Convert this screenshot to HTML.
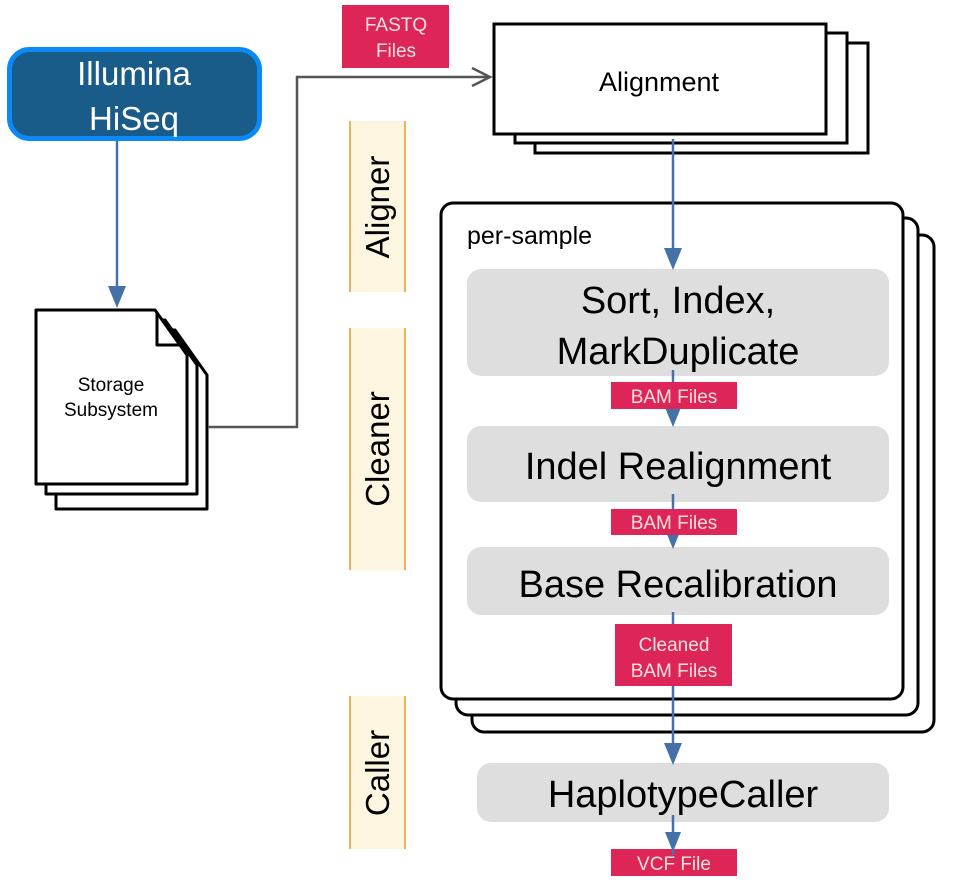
<!DOCTYPE html>
<html><head><meta charset="utf-8"><style>
html,body{margin:0;padding:0;background:#fff;}
svg{display:block;font-family:"Liberation Sans",Arial,sans-serif;}
</style></head><body>
<svg width="965" height="885" viewBox="0 0 965 885" xmlns="http://www.w3.org/2000/svg">
<!-- swimlane bands -->
<g fill="#fcf6e1" stroke="#f0b05a" stroke-width="2">
<rect x="350" y="121" width="55" height="171" stroke="none"/>
<line x1="350" y1="121" x2="350" y2="292"/><line x1="405" y1="121" x2="405" y2="292"/>
<rect x="350" y="328" width="55" height="242" stroke="none"/>
<line x1="350" y1="328" x2="350" y2="570"/><line x1="405" y1="328" x2="405" y2="570"/>
<rect x="350" y="696" width="55" height="153" stroke="none"/>
<line x1="350" y1="696" x2="350" y2="849"/><line x1="405" y1="696" x2="405" y2="849"/>
</g>
<g font-size="33" fill="#000" text-anchor="middle">
<text transform="translate(389,207) rotate(-90)">Aligner</text>
<text transform="translate(389,449) rotate(-90)">Cleaner</text>
<text transform="translate(389,773) rotate(-90)">Caller</text>
</g>

<!-- Illumina -->
<rect x="9.5" y="49.5" width="250" height="89" rx="20" fill="#195b89" stroke="#0b8af6" stroke-width="5"/>
<text x="134" y="85" font-size="33" fill="#fff" text-anchor="middle">Illumina</text>
<text x="134" y="130" font-size="33" fill="#fff" text-anchor="middle">HiSeq</text>
<line x1="117" y1="141" x2="117" y2="290" stroke="#4472a8" stroke-width="2.5"/>
<polygon points="108,286 126,286 117,308" fill="#4472a8"/>

<!-- Storage docs -->
<g fill="#fff" stroke="#000" stroke-width="3" stroke-linejoin="round">
<polygon points="56,330 175,330 207,375 207,509 56,509"/>
<polygon points="46,320 165,320 197,365 197,494 46,494"/>
<polygon points="36,310 155,310 187,355 187,484 36,484"/>
<polyline points="157,312 157,345 185,345" fill="none"/>
</g>
<text x="111" y="391" font-size="19" text-anchor="middle">Storage</text>
<text x="111" y="416" font-size="19" text-anchor="middle">Subsystem</text>

<!-- gray connector -->
<polyline points="208,427 297,427 297,77 488,77" fill="none" stroke="#555" stroke-width="2.5"/>
<polyline points="472,68 490,77 472,86" fill="none" stroke="#555" stroke-width="2.5"/>
<rect x="342" y="5" width="107" height="63" fill="#de2558"/>
<text x="396" y="31" font-size="19" fill="#fbe3dc" text-anchor="middle">FASTQ</text>
<text x="396" y="57" font-size="19" fill="#fbe3dc" text-anchor="middle">Files</text>

<!-- Alignment stacked -->
<g fill="#fff" stroke="#000" stroke-width="3">
<rect x="535" y="43" width="333" height="110"/>
<rect x="515" y="33" width="332" height="110"/>
<rect x="494" y="24" width="332" height="110"/>
</g>
<text x="659" y="91" font-size="27" text-anchor="middle">Alignment</text>

<!-- per-sample stacked -->
<g fill="#fff" stroke="#000" stroke-width="3">
<rect x="472" y="235" width="462" height="497" rx="12"/>
<rect x="456" y="218" width="462" height="497" rx="12"/>
<rect x="441" y="203" width="462" height="496" rx="12"/>
</g>
<text x="467" y="244" font-size="25">per-sample</text>

<!-- gray boxes -->
<g fill="#dedede">
<rect x="467" y="269" width="422" height="107" rx="14"/>
<rect x="467" y="426" width="422" height="76" rx="14"/>
<rect x="467" y="547" width="422" height="68" rx="14"/>
<rect x="477" y="763" width="412" height="59" rx="14"/>
</g>
<g font-size="38" text-anchor="middle" fill="#000">
<text x="678" y="313">Sort, Index,</text>
<text x="678" y="364">MarkDuplicate</text>
<text x="678" y="479">Indel Realignment</text>
<text x="678" y="597">Base Recalibration</text>
<text x="683" y="807">HaplotypeCaller</text>
</g>

<!-- blue vertical lines -->
<g stroke="#4472a8" stroke-width="2.5">
<line x1="673" y1="139" x2="673" y2="252"/>
<line x1="673" y1="370" x2="673" y2="410"/>
<line x1="673" y1="494" x2="673" y2="530"/>
<line x1="673" y1="612" x2="673" y2="746"/>
<line x1="673" y1="815" x2="673" y2="838"/>
</g>
<g fill="#4472a8">
<polygon points="664,248 682,248 673,270"/>
<polygon points="664,405 682,405 673,427"/>
<polygon points="664,527 682,527 673,549"/>
<polygon points="664,743 682,743 673,765"/>
<polygon points="665,832 681,832 673,852"/>
</g>

<!-- red labels -->
<g fill="#de2558">
<rect x="611" y="382" width="126" height="27"/>
<rect x="611" y="509" width="126" height="26"/>
<rect x="615" y="624" width="117" height="62"/>
<rect x="611" y="849" width="126" height="27"/>
</g>
<g font-size="19" fill="#fbe3dc" text-anchor="middle">
<text x="674" y="403">BAM Files</text>
<text x="674" y="529">BAM Files</text>
<text x="674" y="651">Cleaned</text>
<text x="674" y="677">BAM Files</text>
<text x="674" y="870">VCF File</text>
</g>
<line x1="673" y1="849" x2="673" y2="855" stroke="#4472a8" stroke-width="2.5"/>
</svg>
</body></html>
